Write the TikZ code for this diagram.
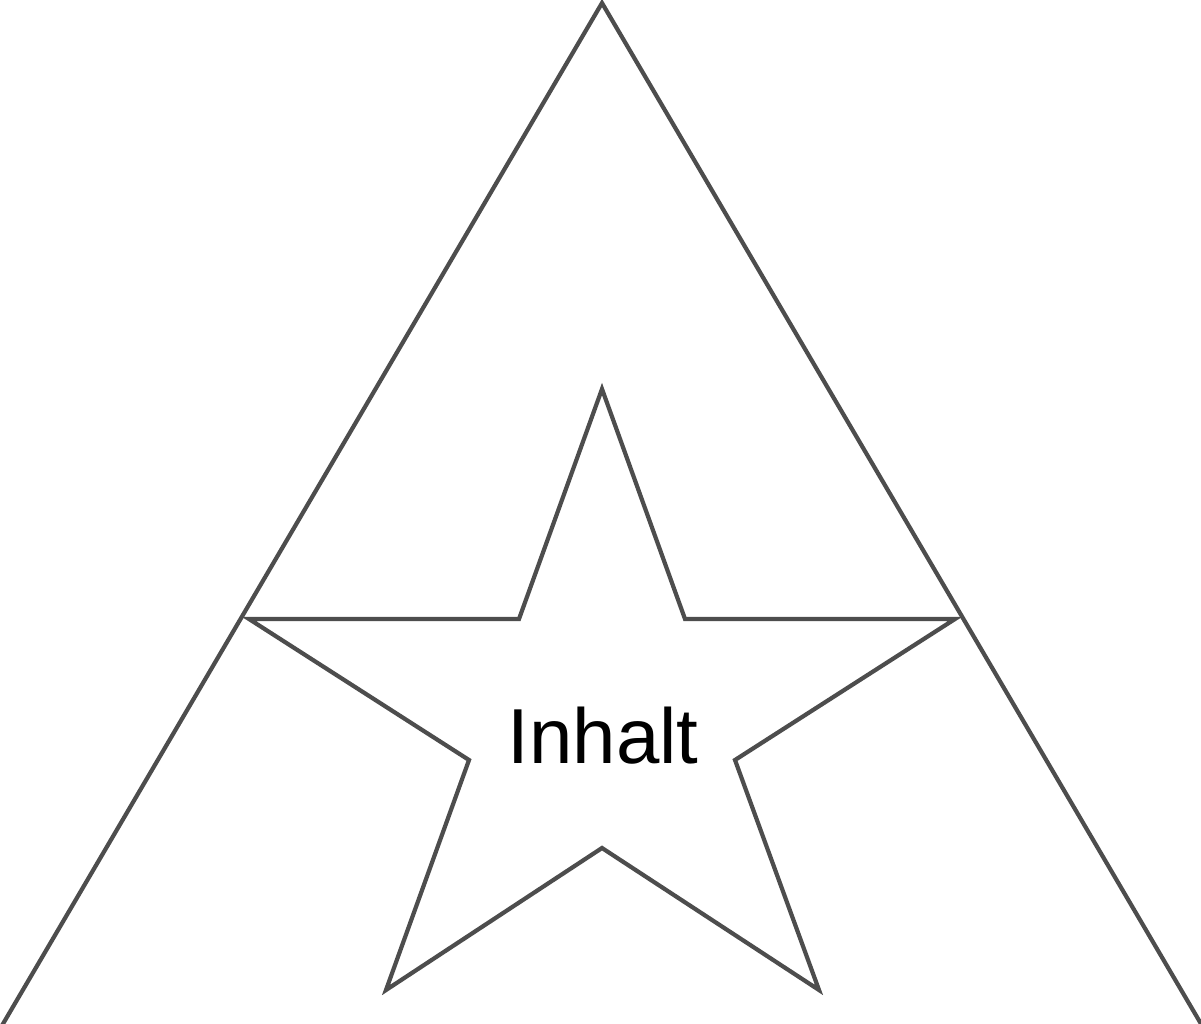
\documentclass[tikz,border=0pt]{standalone}
\usepackage{fontspec}
\setmainfont{Liberation Sans}
\definecolor{edge}{HTML}{4D4D4D}
\begin{document}
\begin{tikzpicture}[x=1pt,y=-1pt,
  outline/.style={draw=edge,line width=4.2pt,line join=miter}]
\useasboundingbox (0,0) rectangle (1201,1024);
\clip (0,0) rectangle (1201,1024);
% triangle (bottom edge lies below the picture)
\coordinate (apex) at (602,3);
\coordinate (bl) at (-10,1046);
\coordinate (br) at (1214,1046);
\draw[outline] (bl) -- (apex) -- (br);
% star
\coordinate (s1) at (602,389);
\coordinate (i1) at (685,619);
\coordinate (s2) at (955,619);
\coordinate (i2) at (735,760);
\coordinate (s3) at (819,990);
\coordinate (i3) at (602,848);
\coordinate (s4) at (386,990);
\coordinate (i4) at (469,760);
\coordinate (s5) at (249,619);
\coordinate (i5) at (519,619);
\draw[outline,fill=white] (s1) -- (i1) -- (s2) -- (i2) -- (s3) -- (i3) -- (s4) -- (i4) -- (s5) -- (i5) -- cycle;
\node[anchor=base,inner sep=0pt,font=\fontsize{78}{94}\selectfont] (label) at (603,763) {Inhalt};
\end{tikzpicture}
\end{document}
